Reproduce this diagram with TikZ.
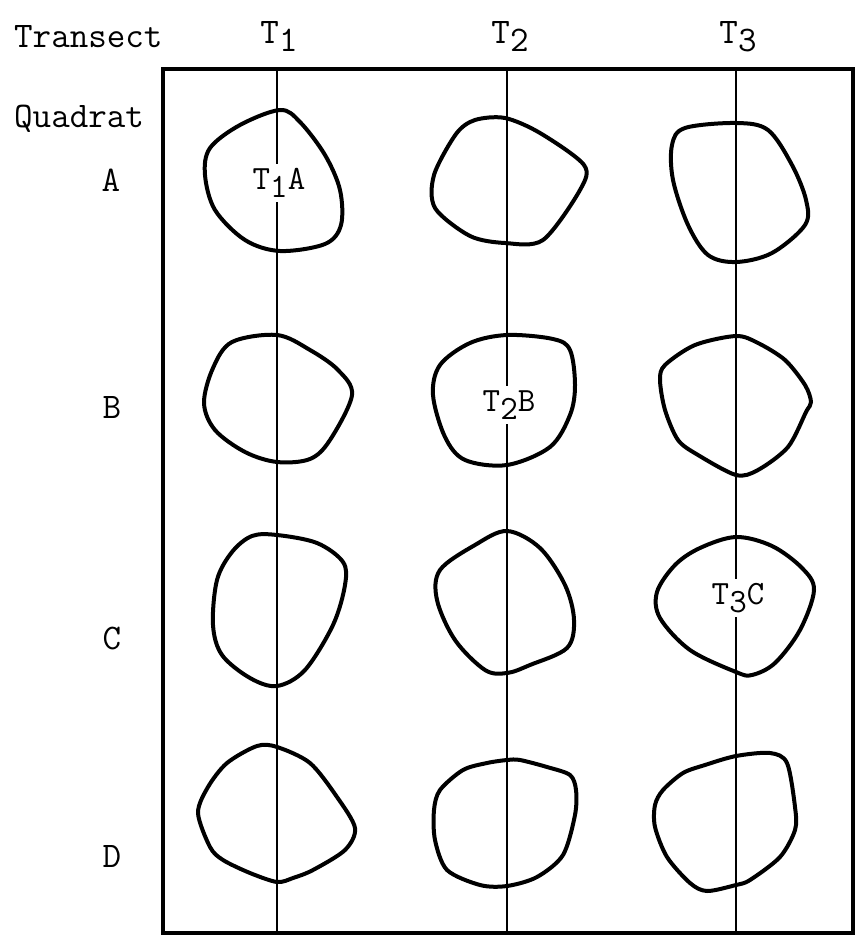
\documentclass[tikz,border=0pt]{standalone}
\newcommand{\lowdig}[1]{\raisebox{-0.5ex}{#1}}
\begin{document}
\begin{tikzpicture}[x=1pt,y=-1pt,
  lbl/.style={font=\ttfamily\fontsize{36}{38}\selectfont, inner sep=0pt},
  rowlbl/.style={font=\ttfamily\fontsize{36}{38}\selectfont, inner sep=0pt},
  inlbl/.style={font=\ttfamily\fontsize{34}{36}\selectfont, fill=white, inner xsep=1pt, inner ysep=5pt},
  frame/.style={line width=4pt},
  tline/.style={line width=2.4pt},
  blob/.style={line width=4pt, line join=round}]
\useasboundingbox (0,0) rectangle (857,941);
% frame
\draw[frame] (163,69) rectangle (853,933);
% transect lines
\coordinate (t1top) at (277,69); \coordinate (t1bot) at (277,933);
\coordinate (t2top) at (507,69); \coordinate (t2bot) at (507,933);
\coordinate (t3top) at (736,69); \coordinate (t3bot) at (736,933);
\draw[tline] (t1top) -- (t1bot);
\draw[tline] (t2top) -- (t2bot);
\draw[tline] (t3top) -- (t3bot);
% header labels
\node[lbl, anchor=base west] (transect) at (14,48) {Transect};
\node[lbl, anchor=base] (T1) at (279,44) {T\lowdig{1}};
\node[lbl, anchor=base] (T2) at (510,44) {T\lowdig{2}};
\node[lbl, anchor=base] (T3) at (738,44) {T\lowdig{3}};
\node[lbl, anchor=base west] (quadrat) at (14,128) {Quadrat};
\node[rowlbl] (rA) at (111,180) {A};
\node[rowlbl] (rB) at (112,407) {B};
\node[rowlbl] (rC) at (112,638) {C};
\node[rowlbl] (rD) at (112,856) {D};
% row A
\draw[blob] plot[smooth cycle, tension=0.55] coordinates {
  (280,110) (240,125) (210,148) (205,175) (215,210) (245,240) (280,251)
  (325,244) (341,225) (340,190) (325,155) (300,122)};
\draw[blob] plot[smooth cycle, tension=0.5] coordinates {
  (505,118) (540,133) (584,165) (580,190) (543,240) (505,243) (470,236)
  (435,208) (434,175) (456,134) (475,120)};
\draw[blob] plot[smooth cycle, tension=0.55] coordinates {
  (736,123) (768,130) (792,165) (806,200) (805,225) (772,253) (736,262)
  (708,255) (688,225) (673,180) (672,145) (685,128)};
% row B
\draw[blob] plot[smooth cycle, tension=0.55] coordinates {
  (277,335) (232,342) (213,368) (204,403) (215,430) (245,452) (277,462)
  (310,459) (330,440) (352,395) (338,370) (310,350)};
\draw[blob] plot[smooth cycle, tension=0.55] coordinates {
  (507,335) (553,339) (570,350) (575,385) (570,415) (550,447) (507,465)
  (465,460) (445,437) (433,395) (440,365) (470,343)};
\draw[blob] plot[smooth cycle, tension=0.5] coordinates {
  (736,336) (758,343) (785,360) (805,385) (811,402) (806,412) (788,447)
  (758,470) (736,475) (698,455) (678,440) (665,410) (660,380) (665,365)
  (695,345)};
% row C
\draw[blob] plot[smooth cycle, tension=0.55] coordinates {
  (277,535) (317,543) (343,562) (345,585) (333,625) (305,670) (277,686)
  (250,678) (222,655) (213,625) (217,580) (232,552) (252,536)};
\draw[blob] plot[smooth cycle, tension=0.55] coordinates {
  (507,531) (540,548) (565,585) (574,620) (567,648) (530,665) (507,673)
  (485,670) (455,640) (437,600) (440,570) (475,545)};
\draw[blob] plot[smooth cycle, tension=0.55] coordinates {
  (736,537) (772,546) (802,568) (814,590) (800,630) (775,663) (752,675)
  (736,672) (690,650) (660,618) (657,592) (675,565) (700,548)};
% row D
\draw[blob] plot[smooth cycle, tension=0.5] coordinates {
  (277,747) (310,763) (337,797) (355,828) (345,850) (313,870) (293,878)
  (277,882) (250,873) (223,860) (210,847) (198,813) (208,787) (227,763)
  (257,746)};
\draw[blob] plot[smooth cycle, tension=0.5] coordinates {
  (507,760) (520,760) (547,767) (570,775) (576,790) (575,815) (563,855)
  (537,877) (507,886) (480,885) (447,870) (435,840) (434,810) (440,790)
  (463,770) (487,763)};
\draw[blob] plot[smooth cycle, tension=0.5] coordinates {
  (736,756) (770,753) (787,763) (795,807) (795,830) (780,857) (750,880)
  (736,885) (707,891) (690,883) (667,857) (655,827) (655,805) (663,790)
  (683,773) (705,765)};
% labels in quadrats
\node[inlbl] (T1A) at (279,183) {T\lowdig{1}A};
\node[inlbl] (T2B) at (509,405) {T\lowdig{2}B};
\node[inlbl] (T3C) at (738,598) {T\lowdig{3}C};
\end{tikzpicture}
\end{document}
